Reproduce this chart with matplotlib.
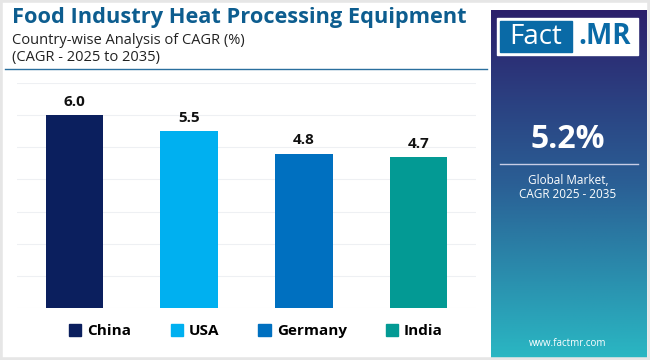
import matplotlib.pyplot as plt
import numpy as np
from matplotlib.patches import Rectangle
from matplotlib.colors import LinearSegmentedColormap

countries = ['China', 'USA', 'Germany', 'India']
cagr = [6.0, 5.5, 4.8, 4.7]
colors = ['#0b1f5e', '#00b0f0', '#0070c0', '#039a94']
global_cagr = '5.2%'

W, H = 650, 360
fig = plt.figure(figsize=(6.5, 3.6), dpi=100)
fig.patch.set_facecolor('white')
plt.rcParams['font.family'] = ['Open Sans', 'DejaVu Sans']

def fx(x):
    return x / W

def fy(y):
    return 1 - y / H

# light outer frame
fig.patches.append(Rectangle((0, 0), 1, 1, transform=fig.transFigure,
                             fill=False, edgecolor='#e6e6e6', lw=4))

# titles
fig.text(fx(12), fy(18), 'Food Industry Heat Processing Equipment', fontsize=15.7,
         fontweight='bold', color='#0d5d8f', va='center', ha='left')
fig.text(fx(12), fy(40), 'Country-wise Analysis of CAGR (%)', fontsize=10.5,
         color='#222222', va='center', ha='left')
fig.text(fx(12), fy(58), '(CAGR - 2025 to 2035)', fontsize=10.5,
         color='#222222', va='center', ha='left')
fig.add_artist(plt.Line2D([fx(5), fx(487)], [fy(68.5), fy(68.5)],
                          transform=fig.transFigure, color='#2a6f9e', lw=1))

# bar chart
ax = fig.add_axes([fx(17), fy(308), fx(476 - 17), (308 - 83) / H])
x = np.arange(len(countries))
ax.bar(x, cagr, width=0.5, color=colors, zorder=3)
for xi, v in zip(x, cagr):
    ax.text(xi, v + 0.2, f'{v:.1f}', ha='center', va='bottom', fontsize=11,
            fontweight='bold', color='#111111')
ax.set_xlim(-0.5, 3.5)
ax.set_ylim(0, 7)
ax.set_yticks(np.arange(0, 8, 1))
ax.grid(axis='y', color='#eef0f3', lw=0.8, zorder=0)
ax.tick_params(left=False, bottom=False, labelleft=False, labelbottom=False)
for s in ax.spines.values():
    s.set_visible(False)

# legend
handles = [Rectangle((0, 0), 1, 1, color=c) for c in colors]
leg = fig.legend(handles, countries, loc='center', bbox_to_anchor=(fx(256), fy(331)),
                 ncol=4, frameon=False, handlelength=0.8, handleheight=0.8,
                 handletextpad=0.4, columnspacing=2.55,
                 prop={'weight': 'bold', 'size': 11})

# right panel with gradient
pax = fig.add_axes([fx(491), fy(358), fx(646 - 491), (358 - 10) / H])
cmap = LinearSegmentedColormap.from_list('panel', ['#2c1f6b', '#2a5f95', '#2ab7c3'])
grad = np.linspace(0, 1, 256).reshape(-1, 1)
pax.imshow(grad, aspect='auto', cmap=cmap, extent=[0, 1, 1, 0])
pax.set_xlim(0, 1)
pax.set_ylim(1, 0)
pax.axis('off')

# logo
fig.patches.append(Rectangle((fx(497), fy(55)), fx(141), (55 - 18) / H,
                             transform=fig.transFigure, color='white', zorder=5))
fig.patches.append(Rectangle((fx(500), fy(52)), fx(72), (52 - 21) / H,
                             transform=fig.transFigure, color='#0a6aa6', zorder=6))
fig.text(fx(536), fy(37), 'Fact', fontsize=20, color='white', ha='center',
         va='center', zorder=7)
fig.text(fx(605), fy(37), '.MR', fontsize=20, color='#0a6aa6', ha='center',
         va='center', fontweight='bold', zorder=7)

fig.text(fx(568), fy(140), global_cagr, fontsize=23, color='white',
         fontweight='bold', ha='center', va='center')
fig.add_artist(plt.Line2D([fx(500), fx(638)], [fy(164), fy(164)],
                          transform=fig.transFigure, color='#c8cde6', lw=1))
fig.text(fx(568), fy(180), 'Global Market,', fontsize=8.5, color='white',
         ha='center', va='center')
fig.text(fx(568), fy(194), 'CAGR 2025 - 2035', fontsize=8.5, color='white',
         ha='center', va='center')
fig.text(fx(568), fy(343), 'www.factmr.com', fontsize=7, color='white',
         ha='center', va='center')

fig.savefig('out.png', dpi=100)
